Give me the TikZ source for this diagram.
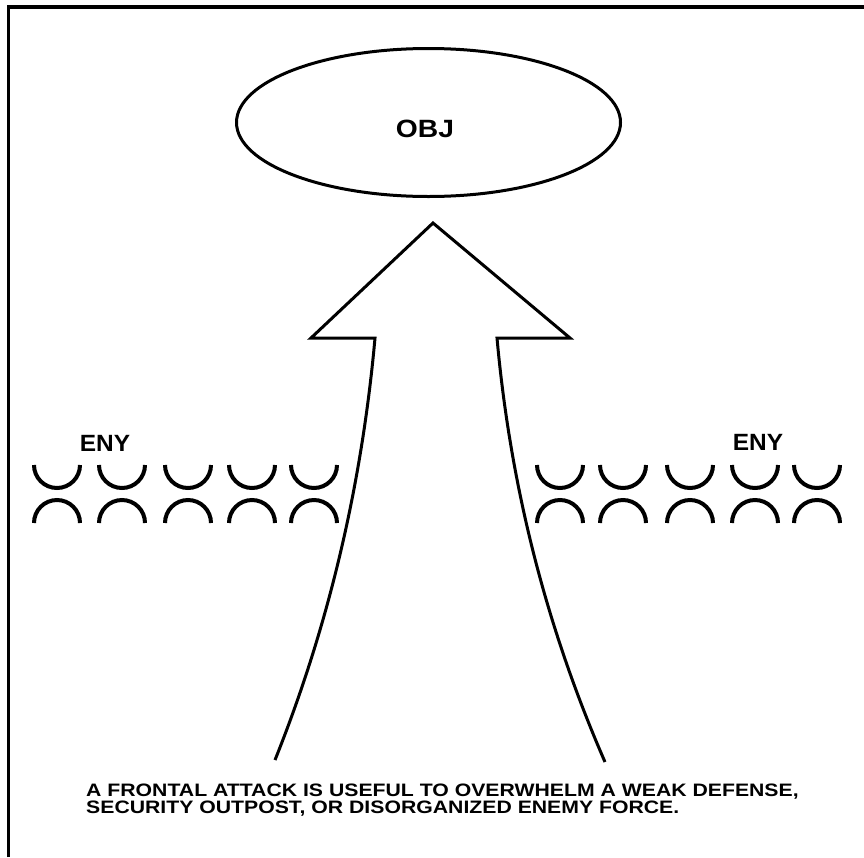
\documentclass[tikz,border=0pt]{standalone}
\usepackage{fontspec}
\setmainfont{Liberation Sans}
\usetikzlibrary{shapes.geometric}
\begin{document}
\begin{tikzpicture}[x=1pt,y=-1pt,line join=miter,
  outline/.style={draw=black,line width=3pt},
  enyarc/.style={draw=black,line width=4pt},
  bigtxt/.style={font=\bfseries\fontsize{25}{25}\selectfont,inner sep=0pt},
  enytxt/.style={font=\bfseries\fontsize{23.5}{24}\selectfont,inner sep=0pt},
  captxt/.style={font=\bfseries\fontsize{18}{15}\selectfont,inner sep=0pt,align=left,anchor=north west}]
\useasboundingbox (0,0) rectangle (864,857);
\fill[white] (0,0) rectangle (864,857);
% frame (top and left edges only)
\draw[line width=3.5pt] (8.5,857) -- (8.5,7) -- (864,7);
% objective
\node[ellipse,outline,minimum width=384pt,minimum height=148pt,inner sep=0pt] (obj) at (428.5,122.5) {};
\node[bigtxt] (objlbl) at (425,129) {\scalebox{1.13}[1]{OBJ}};
% attack arrow
\draw[outline] (275,760) .. controls (328.3,626.7) and (361.7,486) .. (375,338)
  -- (311,338) -- (433,223) -- (570,338) -- (497,338)
  .. controls (510.3,486) and (546.3,627.3) .. (605,762);
% enemy positions
\foreach \cx in {57,122,188,252,314,560,623,690,755,817}{
  \draw[enyarc] (\cx-23,465) arc[start angle=180,end angle=360,radius=23pt];
  \draw[enyarc] (\cx-23,523) arc[start angle=180,end angle=0,radius=23pt];
}
\node[enytxt] (enyL) at (105,443) {\scalebox{1.04}[1]{ENY}};
\node[enytxt] (enyR) at (758,442) {\scalebox{1.04}[1]{ENY}};
% caption
\node[captxt] (caption) at (86,784.1) {\scalebox{1.179}[1]{A FRONTAL ATTACK IS USEFUL TO OVERWHELM A WEAK DEFENSE,}\\
  \scalebox{1.179}[1]{SECURITY OUTPOST, OR DISORGANIZED ENEMY FORCE.}};
\end{tikzpicture}
\end{document}
